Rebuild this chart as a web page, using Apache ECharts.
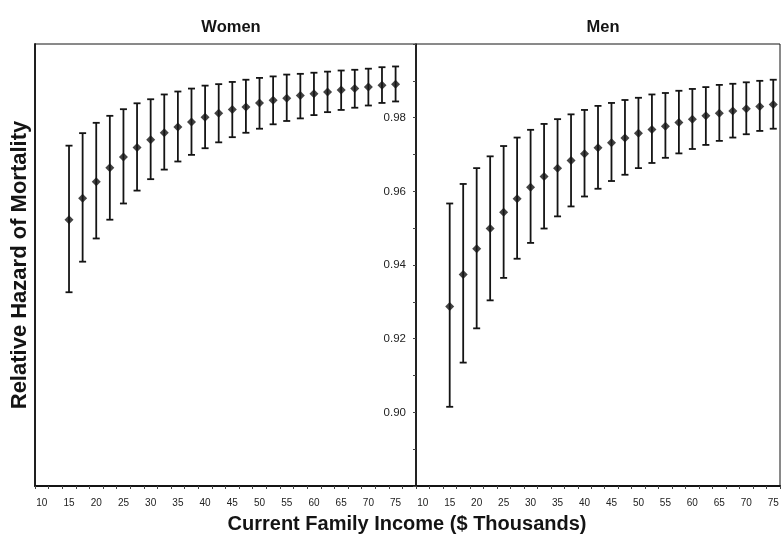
<!DOCTYPE html>
<html>
<head>
<meta charset="utf-8">
<script src="https://cdn.jsdelivr.net/npm/echarts@6/dist/echarts.min.js"></script>
<style>
html,body{margin:0;padding:0;background:#fff;}
#chart{width:782px;height:540px;}
</style>
</head>
<body>
<div id="chart"></div>
<script>
// Category axis labels (income, $ thousands)
const womenCategories = ['10','12.5','15','17.5','20','22.5','25','27.5','30','32.5','35','37.5','40','42.5','45','47.5','50','52.5','55','57.5','60','62.5','65','67.5','70','72.5','75','77.5'];
const menCategories = ['10','12.5','15','17.5','20','22.5','25','27.5','30','32.5','35','37.5','40','42.5','45','47.5','50','52.5','55','57.5','60','62.5','65','67.5','70','72.5','75'];
// Incomes at which estimates are shown
const incomes = ['15','17.5','20','22.5','25','27.5','30','32.5','35','37.5','40','42.5','45','47.5','50','52.5','55','57.5','60','62.5','65','67.5','70','72.5','75'];

const womenEst  = [0.9523,0.9581,0.9626,0.9664,0.9693,0.9719,0.9740,0.9759,0.9775,0.9788,0.9801,0.9812,0.9822,0.9829,0.9840,0.9847,0.9853,0.9860,0.9865,0.9870,0.9875,0.9879,0.9883,0.9888,0.9891];
const womenLow  = [0.9326,0.9409,0.9472,0.9523,0.9567,0.9602,0.9633,0.9659,0.9681,0.9699,0.9717,0.9733,0.9747,0.9759,0.9770,0.9782,0.9791,0.9798,0.9807,0.9815,0.9821,0.9827,0.9833,0.9840,0.9844];
const womenHigh = [0.9724,0.9758,0.9786,0.9805,0.9823,0.9839,0.9850,0.9863,0.9871,0.9879,0.9887,0.9891,0.9897,0.9903,0.9908,0.9912,0.9917,0.9919,0.9922,0.9925,0.9928,0.9930,0.9933,0.9937,0.9939];

const menEst  = [0.9287,0.9374,0.9444,0.9499,0.9543,0.9580,0.9611,0.9640,0.9663,0.9684,0.9702,0.9718,0.9732,0.9745,0.9758,0.9768,0.9777,0.9787,0.9796,0.9805,0.9812,0.9818,0.9824,0.9830,0.9836];
const menLow  = [0.9015,0.9135,0.9228,0.9304,0.9365,0.9417,0.9460,0.9499,0.9532,0.9559,0.9586,0.9607,0.9628,0.9645,0.9663,0.9677,0.9691,0.9703,0.9715,0.9726,0.9737,0.9746,0.9755,0.9764,0.9770];
const menHigh = [0.9567,0.9620,0.9663,0.9695,0.9723,0.9746,0.9767,0.9783,0.9796,0.9809,0.9821,0.9832,0.9840,0.9848,0.9854,0.9863,0.9867,0.9873,0.9878,0.9883,0.9889,0.9892,0.9896,0.9900,0.9903];

const yTickLabels = ['0.90','0.92','0.94','0.96','0.98'];

const FONT = '"Liberation Sans", Arial, Helvetica, sans-serif';
const INK = '#141414';

function errData(cats, lo, hi) {
  return incomes.map((inc, i) => [cats.indexOf(inc), lo[i], hi[i]]);
}
function ptData(cats, est) {
  return incomes.map((inc, i) => [cats.indexOf(inc), est[i]]);
}
function renderErr(params, api) {
  const x = api.value(0);
  const pLo = api.coord([x, api.value(1)]);
  const pHi = api.coord([x, api.value(2)]);
  const w = 3.5;
  const st = { stroke: INK, lineWidth: 1.8 };
  return {
    type: 'group',
    children: [
      { type: 'line', shape: { x1: pLo[0], y1: pLo[1], x2: pHi[0], y2: pHi[1] }, style: st },
      { type: 'line', shape: { x1: pLo[0] - w, y1: pLo[1], x2: pLo[0] + w, y2: pLo[1] }, style: st },
      { type: 'line', shape: { x1: pHi[0] - w, y1: pHi[1], x2: pHi[0] + w, y2: pHi[1] }, style: st }
    ]
  };
}

function xAxisFor(gridIndex, cats) {
  return {
    type: 'category', gridIndex, data: cats, boundaryGap: true,
    axisLine: { show: true, lineStyle: { color: INK, width: 2 } },
    axisTick: { show: true, interval: 0, length: 3, lineStyle: { color: '#444', width: 1 } },
    axisLabel: { interval: 1, color: '#222', fontFamily: FONT, fontSize: 10, margin: 12 },
    splitLine: { show: false }
  };
}

const chart = echarts.init(document.getElementById('chart'), null, { renderer: 'canvas' });
chart.setOption({
  backgroundColor: '#ffffff',
  animation: false,
  title: [
    { text: 'Women', left: 226, top: 14, textAlign: 'center',
      textStyle: { fontFamily: FONT, fontWeight: 'bold', fontSize: 16.5, color: INK } },
    { text: 'Men', left: 598, top: 14, textAlign: 'center',
      textStyle: { fontFamily: FONT, fontWeight: 'bold', fontSize: 16.5, color: INK } },
    { text: 'Current Family Income ($ Thousands)', left: 402, top: 509, textAlign: 'center',
      textStyle: { fontFamily: FONT, fontWeight: 'bold', fontSize: 20, color: INK } }
  ],
  graphic: [
    { type: 'text', x: 20, y: 265, rotation: Math.PI / 2,
      style: { text: 'Relative Hazard of Mortality', font: 'bold 22px ' + FONT, fill: INK,
               textAlign: 'center', textVerticalAlign: 'middle' } }
  ],
  grid: [
    { left: 35, top: 44, width: 381, height: 442, show: true, borderColor: INK, borderWidth: 1, backgroundColor: 'transparent' },
    { left: 416, top: 44, width: 364, height: 442, show: true, borderColor: INK, borderWidth: 1, backgroundColor: 'transparent' }
  ],
  xAxis: [xAxisFor(0, womenCategories), xAxisFor(1, menCategories)],
  yAxis: [
    { type: 'value', gridIndex: 0, min: 0.88, max: 1.0, interval: 0.01,
      axisLine: { show: true, lineStyle: { color: INK, width: 1.8 } },
      axisTick: { show: false }, axisLabel: { show: false }, splitLine: { show: false } },
    { type: 'value', gridIndex: 1, min: 0.88, max: 1.0, interval: 0.01,
      axisLine: { show: true, lineStyle: { color: INK, width: 1.5 } },
      axisTick: { show: true, length: 3, lineStyle: { color: '#444' } },
      axisLabel: { show: true, margin: 10, color: '#222', fontFamily: FONT, fontSize: 11.5,
        formatter: function (v) {
          const s = v.toFixed(2);
          return yTickLabels.indexOf(s) >= 0 ? s : '';
        } },
      splitLine: { show: false } }
  ],
  series: [
    { type: 'custom', xAxisIndex: 0, yAxisIndex: 0, renderItem: renderErr,
      data: errData(womenCategories, womenLow, womenHigh), encode: { x: 0, y: [1, 2] }, z: 2 },
    { type: 'scatter', xAxisIndex: 0, yAxisIndex: 0, symbol: 'diamond', symbolSize: 9,
      itemStyle: { color: INK }, data: ptData(womenCategories, womenEst), z: 3 },
    { type: 'custom', xAxisIndex: 1, yAxisIndex: 1, renderItem: renderErr,
      data: errData(menCategories, menLow, menHigh), encode: { x: 0, y: [1, 2] }, z: 2 },
    { type: 'scatter', xAxisIndex: 1, yAxisIndex: 1, symbol: 'diamond', symbolSize: 9,
      itemStyle: { color: INK }, data: ptData(menCategories, menEst), z: 3 }
  ]
});
</script>
</body>
</html>
